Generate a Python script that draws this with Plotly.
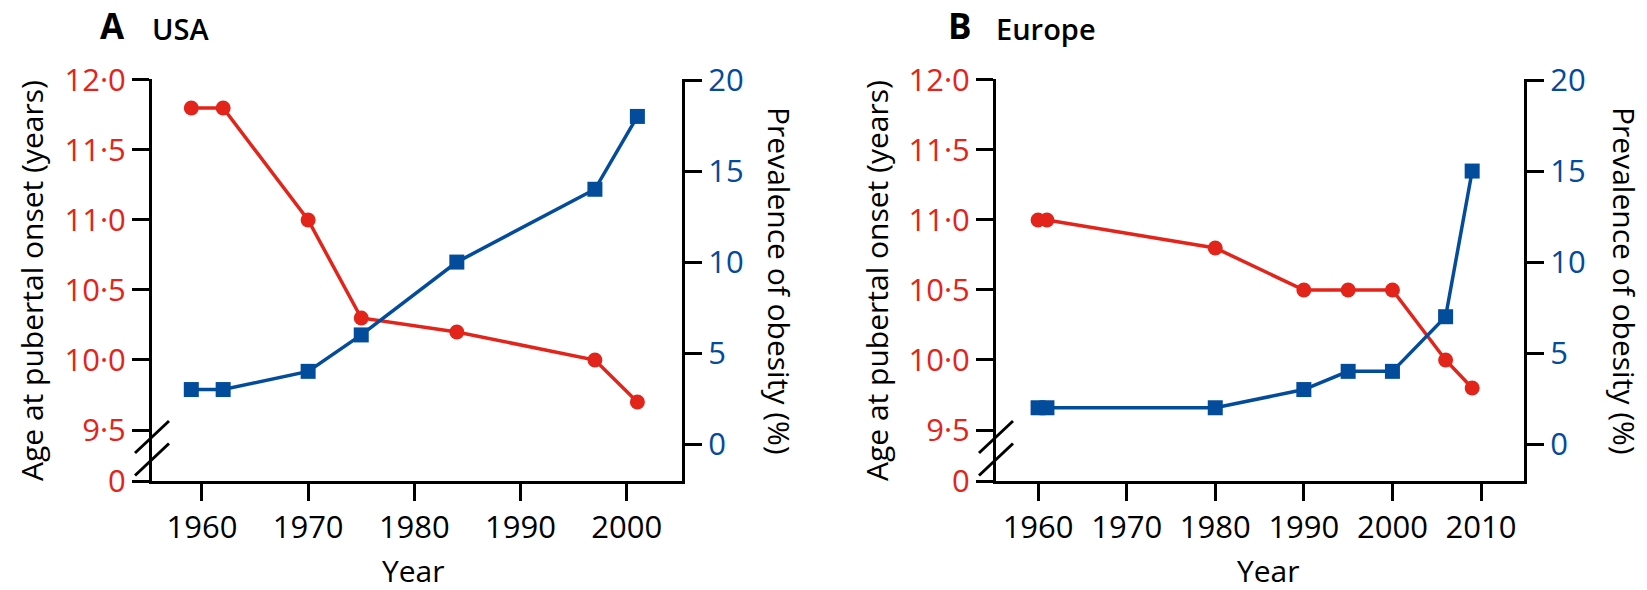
import plotly.graph_objects as go

# ---------------- data ----------------
usa_years_age = [1959, 1962, 1970, 1975, 1984, 1997, 2001]
usa_age = [11.8, 11.8, 11.0, 10.3, 10.2, 10.0, 9.7]
usa_years_ob = [1959, 1962, 1970, 1975, 1984, 1997, 2001]
usa_obesity = [3, 3, 4, 6, 10, 14, 18]

eu_years_age = [1960, 1961, 1980, 1990, 1995, 2000, 2006, 2009]
eu_age = [11.0, 11.0, 10.8, 10.5, 10.5, 10.5, 10.0, 9.8]
eu_years_ob = [1960, 1961, 1980, 1990, 1995, 2000, 2006, 2009]
eu_obesity = [2, 2, 2, 3, 4, 4, 7, 15]

age_ticks = [9.5, 10.0, 10.5, 11.0, 11.5, 12.0]
age_tick_labels = ["9·5", "10·0", "10·5", "11·0", "11·5", "12·0"]
ob_ticks = [0, 5, 10, 15, 20]
ob_tick_labels = ["0", "5", "10", "15", "20"]
usa_xticks = [1960, 1970, 1980, 1990, 2000]
eu_xticks = [1960, 1970, 1980, 1990, 2000, 2010]

panel_titles = [("A", "USA"), ("B", "Europe")]
left_title = "Age at pubertal onset (years)"
right_title = "Prevalence of obesity (%)"
x_title = "Year"

# ---------------- style ----------------
W, H = 1647, 590
RED = "#E3241B"
BLUE = "#034B9B"
FONT = "Open Sans"
TICK_SIZE = 31
TITLE_SIZE = 30

AGE_MIN, AGE_MAX = 9.1357, 12.007
OB_MIN, OB_MAX = -2.022, 20.055

top_px, bot_px = 79, 481
ydom = [1 - bot_px / H, 1 - top_px / H]
domA = [152 / W, 682 / W]
domB = [996 / W, 1524 / W]

fig = go.Figure()

def add_panel(xs_age, age, xs_ob, ob, xa, ya_l, ya_r):
    fig.add_trace(go.Scatter(x=xs_age, y=age, mode="lines+markers",
                             line=dict(color=RED, width=3.5),
                             marker=dict(symbol="circle", size=15, color=RED),
                             xaxis=xa, yaxis=ya_l, showlegend=False, cliponaxis=False))
    fig.add_trace(go.Scatter(x=xs_ob, y=ob, mode="lines+markers",
                             line=dict(color=BLUE, width=3.5),
                             marker=dict(symbol="square", size=15, color=BLUE),
                             xaxis=xa, yaxis=ya_r, showlegend=False, cliponaxis=False))

add_panel(usa_years_age, usa_age, usa_years_ob, usa_obesity, "x", "y", "y2")
add_panel(eu_years_age, eu_age, eu_years_ob, eu_obesity, "x2", "y3", "y4")

axis_common = dict(showgrid=False, zeroline=False, showline=True, linecolor="black",
                   linewidth=3, ticks="outside", ticklen=17, tickwidth=3, tickcolor="black",
                   automargin=False)

def xaxis(dom, rng, ticks, anchor):
    return dict(domain=dom, range=rng, tickvals=ticks, ticktext=[str(t) for t in ticks],
                anchor=anchor, tickfont=dict(family=FONT, size=TICK_SIZE, color="black"),
                **axis_common)

def yleft(anchor):
    return dict(domain=ydom, range=[AGE_MIN, AGE_MAX], anchor=anchor,
                tickvals=[AGE_MIN] + age_ticks, ticktext=["0"] + age_tick_labels,
                tickfont=dict(family=FONT, size=TICK_SIZE, color=RED), **axis_common)

def yright(anchor, over):
    return dict(domain=ydom, range=[OB_MIN, OB_MAX], anchor=anchor, overlaying=over,
                side="right", tickvals=ob_ticks, ticktext=ob_tick_labels,
                tickfont=dict(family=FONT, size=TICK_SIZE, color=BLUE), **axis_common)

fig.update_layout(
    template="none",
    width=W, height=H, margin=dict(l=0, r=0, t=0, b=0, pad=0), autosize=False,
    plot_bgcolor="white", paper_bgcolor="white",
    xaxis=xaxis(domA, [1955.3, 2005.2], usa_xticks, "y"),
    yaxis=yleft("x"),
    yaxis2=yright("x", "y"),
    xaxis2=xaxis(domB, [1955.25, 2014.85], eu_xticks, "y3"),
    yaxis3=yleft("x2"),
    yaxis4=yright("x2", "y3"),
)

# axis-break marks on the left axes
for xd, yd in [("x domain", "y domain"), ("x2 domain", "y3 domain")]:
    for frac in [0.1095, 0.0535]:
        fig.add_shape(type="line", xref=xd, yref=yd, xsizemode="pixel", ysizemode="pixel",
                      xanchor=0, yanchor=frac, x0=-17, y0=-16, x1=17, y1=16,
                      line=dict(color="black", width=3))

ann = []
def text(x, y, s, size, angle=0, weight=400, xanchor="center"):
    ann.append(dict(x=x / W, y=1 - y / H, xref="paper", yref="paper", text=s,
                    showarrow=False, textangle=angle, xanchor=xanchor, yanchor="middle",
                    font=dict(family=FONT, size=size, color="black", weight=weight)))

# panel titles
text(98, 26, panel_titles[0][0], 35, weight=700, xanchor="left")
text(150, 28, panel_titles[0][1], 29, weight=600, xanchor="left")
text(946, 26, panel_titles[1][0], 35, weight=700, xanchor="left")
text(994, 28, panel_titles[1][1], 29, weight=600, xanchor="left")

# axis titles
text(32, 281, left_title, TITLE_SIZE, angle=-90)
text(779, 281, right_title, TITLE_SIZE, angle=90)
text(413, 570, x_title, TITLE_SIZE)
text(877, 281, left_title, TITLE_SIZE, angle=-90)
text(1624, 281, right_title, TITLE_SIZE, angle=90)
text(1268, 570, x_title, TITLE_SIZE)

fig.update_layout(annotations=ann)

fig.write_html("out.html", config={"displayModeBar": False},
               post_script="document.body.style.margin='0px';")
